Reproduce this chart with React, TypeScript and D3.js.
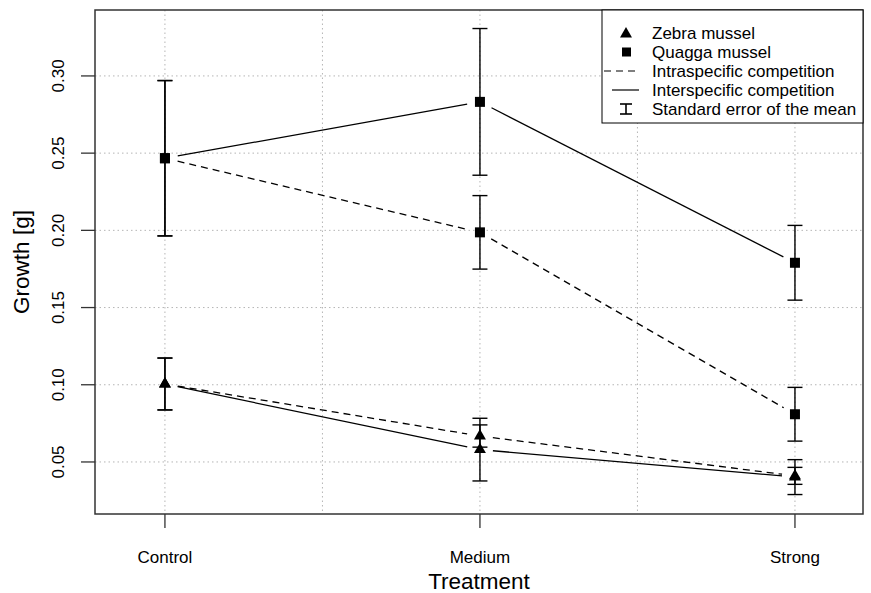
import React from 'react';
import * as d3 from 'd3';

// treatments on the x axis (numeric positions 1, 2, 3)
const treatments = ['Control', 'Medium', 'Strong'];
const yTicks = [0.05, 0.1, 0.15, 0.2, 0.25, 0.3];
const xGrid = [1, 1.5, 2, 2.5, 3];

// mean growth [g] and standard error of the mean
const zebraIntra = [0.1005, 0.0668, 0.041];
const zebraIntraSe = [0.0168, 0.0072, 0.0055];
const zebraInter = [0.1005, 0.058, 0.0402];
const zebraInterSe = [0.0168, 0.0203, 0.0113];
const quaggaIntra = [0.2467, 0.1987, 0.0809];
const quaggaIntraSe = [0.0503, 0.0238, 0.0174];
const quaggaInter = [0.2467, 0.2832, 0.179];
const quaggaInterSe = [0.0503, 0.0475, 0.0242];

const legendLabels = [
  'Zebra mussel',
  'Quagga mussel',
  'Intraspecific competition',
  'Interspecific competition',
  'Standard error of the mean',
];

const FONT = '"Liberation Sans", Arial, Helvetica, sans-serif';
const W = 871;
const H = 593;
const box = { left: 95, right: 863, top: 10, bottom: 514 };

const x = d3.scaleLinear().domain([0.778, 3.216]).range([box.left, box.right]);
const y = d3.scaleLinear().domain([0.0163, 0.3427]).range([box.bottom, box.top]);

type Series = { values: number[]; se: number[]; shape: 'tri' | 'sq'; dashed: boolean };

const series: Series[] = [
  { values: zebraIntra, se: zebraIntraSe, shape: 'tri', dashed: true },
  { values: zebraInter, se: zebraInterSe, shape: 'tri', dashed: false },
  { values: quaggaIntra, se: quaggaIntraSe, shape: 'sq', dashed: true },
  { values: quaggaInter, se: quaggaInterSe, shape: 'sq', dashed: false },
];

// R pch 17 triangle: centroid at the point
function triangle(cx: number, cy: number, r = 6.9) {
  const xc = r * 0.866;
  return `M${cx},${cy - r}L${cx + xc},${cy + r / 2}L${cx - xc},${cy + r / 2}Z`;
}

function Marker({ shape, cx, cy }: { shape: 'tri' | 'sq'; cx: number; cy: number }) {
  if (shape === 'tri') return <path d={triangle(cx, cy)} fill="#000" />;
  return <rect x={cx - 5} y={cy - 5} width={10} height={10} fill="#000" />;
}

// type="b" style: segments stop short of the points
function gappedSegments(pts: [number, number][], gap = 13) {
  const segs: [number, number, number, number][] = [];
  for (let i = 0; i < pts.length - 1; i++) {
    const [x1, y1] = pts[i];
    const [x2, y2] = pts[i + 1];
    const len = Math.hypot(x2 - x1, y2 - y1);
    const ux = (x2 - x1) / len;
    const uy = (y2 - y1) / len;
    segs.push([x1 + ux * gap, y1 + uy * gap, x2 - ux * gap, y2 - uy * gap]);
  }
  return segs;
}

function ErrorBar({ cx, lo, hi }: { cx: number; lo: number; hi: number }) {
  const hw = 7.5;
  return (
    <g stroke="#000" strokeWidth={1.4}>
      <line x1={cx} x2={cx} y1={y(lo)} y2={y(hi)} />
      <line x1={cx - hw} x2={cx + hw} y1={y(lo)} y2={y(lo)} />
      <line x1={cx - hw} x2={cx + hw} y1={y(hi)} y2={y(hi)} />
    </g>
  );
}

export default function App() {
  const legendY = (i: number) => 33 + i * 19;
  return (
    <svg
      width={W}
      height={H}
      style={{ position: 'absolute', left: 0, top: 0, background: '#fff' }}
      fontFamily={FONT}
    >
      {/* grid */}
      <g stroke="#b5b5b5" strokeWidth={1} strokeDasharray="1.5,3">
        {xGrid.map((g) => (
          <line key={`gx${g}`} x1={x(g)} x2={x(g)} y1={box.top} y2={box.bottom} />
        ))}
        {yTicks.map((t) => (
          <line key={`gy${t}`} x1={box.left} x2={box.right} y1={y(t)} y2={y(t)} />
        ))}
      </g>

      {/* series lines */}
      {series.map((s, si) => {
        const pts = s.values.map((v, i) => [x(i + 1), y(v)] as [number, number]);
        return (
          <g key={`l${si}`} stroke="#000" strokeWidth={1.3} strokeDasharray={s.dashed ? '7,5' : undefined}>
            {gappedSegments(pts).map((sg, k) => (
              <line key={k} x1={sg[0]} y1={sg[1]} x2={sg[2]} y2={sg[3]} />
            ))}
          </g>
        );
      })}

      {/* error bars */}
      {series.map((s, si) =>
        s.values.map((v, i) => (
          <ErrorBar key={`e${si}-${i}`} cx={x(i + 1)} lo={v - s.se[i]} hi={v + s.se[i]} />
        ))
      )}

      {/* points */}
      {series.map((s, si) =>
        s.values.map((v, i) => <Marker key={`m${si}-${i}`} shape={s.shape} cx={x(i + 1)} cy={y(v)} />)
      )}

      {/* plot frame */}
      <rect
        x={box.left}
        y={box.top}
        width={box.right - box.left}
        height={box.bottom - box.top}
        fill="none"
        stroke="#333"
        strokeWidth={1.5}
      />

      {/* y axis */}
      <g>
        {yTicks.map((t) => (
          <g key={`yt${t}`}>
            <line x1={box.left - 14} x2={box.left} y1={y(t)} y2={y(t)} stroke="#333" strokeWidth={1.3} />
            <text
              transform={`translate(64,${y(t)}) rotate(-90)`}
              textAnchor="middle"
              fontSize={17}
              fill="#000"
            >
              {t.toFixed(2)}
            </text>
          </g>
        ))}
        <text
          transform={`translate(29,${(box.top + box.bottom) / 2}) rotate(-90)`}
          textAnchor="middle"
          fontSize={22.5}
          fill="#000"
        >
          Growth [g]
        </text>
      </g>

      {/* x axis */}
      <g>
        {treatments.map((c, i) => (
          <g key={c}>
            <line x1={x(i + 1)} x2={x(i + 1)} y1={box.bottom} y2={box.bottom + 14} stroke="#333" strokeWidth={1.3} />
            <text x={x(i + 1)} y={563} textAnchor="middle" fontSize={17} fill="#000">
              {c}
            </text>
          </g>
        ))}
        <text x={(box.left + box.right) / 2} y={589} textAnchor="middle" fontSize={22.5} fill="#000">
          Treatment
        </text>
      </g>

      {/* legend */}
      <g>
        <rect x={602} y={box.top} width={box.right - 602} height={113} fill="#fff" stroke="#000" strokeWidth={1} />
        <path d={triangle(626, legendY(0) + 1)} fill="#000" />
        <rect x={622} y={legendY(1) - 4.5} width={9} height={9} fill="#000" />
        <line x1={604} x2={640} y1={legendY(2)} y2={legendY(2)} stroke="#000" strokeWidth={1.2} strokeDasharray="7,5" />
        <line x1={612} x2={639} y1={legendY(3)} y2={legendY(3)} stroke="#000" strokeWidth={1.2} />
        <g stroke="#000" strokeWidth={1.6}>
          <line x1={626} x2={626} y1={legendY(4) - 5} y2={legendY(4) + 5} />
          <line x1={620} x2={632} y1={legendY(4) - 5} y2={legendY(4) - 5} />
          <line x1={620} x2={632} y1={legendY(4) + 5} y2={legendY(4) + 5} />
        </g>
        {legendLabels.map((l, i) => (
          <text key={l} x={652} y={legendY(i)} dy="0.36em" fontSize={17} fill="#000">
            {l}
          </text>
        ))}
      </g>
    </svg>
  );
}
